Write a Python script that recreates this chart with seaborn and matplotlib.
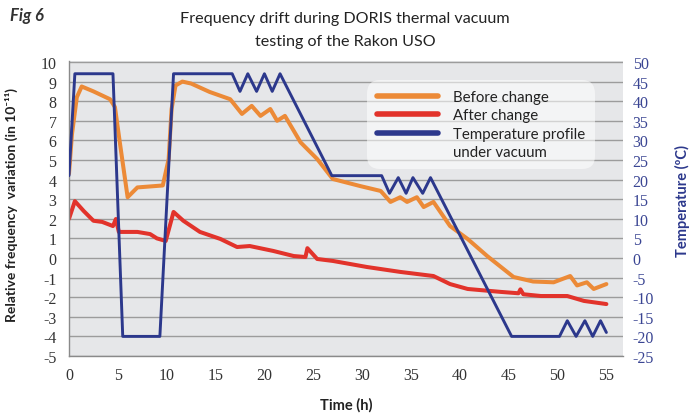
import matplotlib
matplotlib.use("Agg")
import matplotlib.pyplot as plt
from matplotlib.lines import Line2D
import seaborn as sns
import numpy as np

# ---- data ----
t_before = [0, 0.3, 0.8, 1.3, 2.5, 4.2, 4.7, 5.2, 6.0, 7.0, 9.6, 10.2, 10.5, 10.9, 11.6,
            12.5, 14.4, 16.5, 17.7, 18.7, 19.6, 20.6, 21.3, 22.1, 23.7, 25.4, 27.0, 29.8,
            31.9, 32.9, 33.9, 34.6, 35.6, 36.3, 37.3, 39.0, 40.8, 42.8, 45.5, 47.5, 49.6,
            51.3, 52.0, 53.0, 53.7, 55.0]
f_before = [4.3, 6.3, 8.2, 8.75, 8.5, 8.1, 7.7, 5.9, 3.1, 3.6, 3.7, 5.05, 7.6, 8.8, 9.0,
            8.9, 8.47, 8.1, 7.35, 7.76, 7.25, 7.6, 7.0, 7.25, 5.9, 5.05, 4.03, 3.67,
            3.42, 2.86, 3.1, 2.86, 3.1, 2.6, 2.86, 1.63, 0.97, 0.1, -0.97, -1.2, -1.24,
            -0.92, -1.4, -1.24, -1.58, -1.33]

t_after = [0, 0.6, 1.5, 2.5, 3.4, 4.5, 4.8, 5.1, 7.0, 8.3, 9.0, 9.9, 10.7, 11.7, 13.4,
           15.5, 17.2, 18.5, 20.9, 23.0, 24.2, 24.4, 25.4, 27.0, 30.5, 33.9, 37.3, 39.0,
           40.8, 44.2, 46.0, 46.2, 46.5, 48.3, 51.0, 52.7, 55.0]
f_after = [2.0, 2.9, 2.4, 1.9, 1.84, 1.63, 1.99, 1.33, 1.33, 1.22, 1.0, 0.87, 2.35, 1.9, 1.33,
           0.97, 0.56, 0.61, 0.36, 0.1, 0.05, 0.5, -0.05, -0.15, -0.46, -0.71, -0.92, -1.33,
           -1.58, -1.73, -1.8, -1.6, -1.85, -1.94, -1.94, -2.19, -2.35]

t_temp = [0, 0.6, 4.5, 5.5, 9.3, 10.7, 16.7, 17.5, 18.3, 19.2, 20.0, 20.8, 21.6, 26.9,
          32.0, 32.8, 33.7, 34.5, 35.2, 36.2, 37.0, 45.3, 50.2, 51.0, 51.9, 52.8, 53.6,
          54.4, 55.0]
temp = [21, 47, 47, -20, -20, 47, 47, 42.5, 47, 42.5, 47, 42.5, 47, 21,
        21, 16.5, 20.5, 16.5, 20.5, 16.5, 20.5, -20, -20, -16, -20, -16, -20,
        -16, -19]

x_ticks = list(range(0, 56, 5))
left_ticks = list(range(-5, 11, 1))
right_ticks = list(range(-25, 51, 5))

labels = ["Before change", "After change", "Temperature profile", "under vacuum"]
title_lines = ["Frequency drift during DORIS thermal vacuum", "testing of the Rakon USO"]

# ---- style ----
sns.set_style("white")
plt.rcParams['font.family'] = ['Lato', 'DejaVu Sans']

C_ORANGE = '#EC8A37'
C_RED = '#E2332B'
C_BLUE = '#2C388C'
C_RTICK = '#3A4593'
BG = '#E6E7E9'
GRID = '#9C9C9C'

fig = plt.figure(figsize=(6.93, 4.14), dpi=100)
W, H = 693, 414
x0, x1, y0, y1 = 69, 623, 62, 357
ax = fig.add_axes([x0 / W, 1 - y1 / H, (x1 - x0) / W, (y1 - y0) / H])
ax.set_facecolor(BG)

sns.lineplot(x=t_before, y=f_before, ax=ax, color=C_ORANGE, linewidth=2.9,
             estimator=None, sort=False, legend=False)
sns.lineplot(x=t_after, y=f_after, ax=ax, color=C_RED, linewidth=2.9,
             estimator=None, sort=False, legend=False)

ax.set_xlim(0, 56.7)
ax.set_ylim(-5, 10.05)
ax.set_xticks(x_ticks)
ax.set_yticks(left_ticks)
ax.set_yticklabels([str(v) for v in left_ticks])
ax.grid(axis='y', color=GRID, linewidth=1.0)
ax.grid(axis='x', visible=False)
ax.set_axisbelow(True)
for s in ['top', 'right']:
    ax.spines[s].set_visible(False)
for s in ['left', 'bottom']:
    ax.spines[s].set_color('#8A8A8A')
    ax.spines[s].set_linewidth(1.0)
ax.tick_params(axis='both', length=0)
ax.tick_params(axis='y', pad=9, labelcolor='#333333')
ax.tick_params(axis='x', pad=8, labelcolor='#333333')
for lab in ax.get_xticklabels() + ax.get_yticklabels():
    lab.set_family('Liberation Serif')
    lab.set_fontsize(11.5)

ax2 = ax.twinx()
sns.lineplot(x=t_temp, y=temp, ax=ax2, color=C_BLUE, linewidth=2.1,
             estimator=None, sort=False, legend=False)
ax2.set_ylim(-25, 50.25)
ax2.set_yticks(right_ticks)
ax2.set_yticklabels([str(v) for v in right_ticks])
ax2.tick_params(axis='y', length=0, pad=7, labelcolor=C_RTICK)
for lab in ax2.get_yticklabels():
    lab.set_family('Liberation Serif')
    lab.set_fontsize(11.5)
for s in ax2.spines.values():
    s.set_visible(False)
ax2.patch.set_visible(False)

ax.set_xlabel("Time (h)", fontsize=10.5, fontweight='bold', color='#222222')
ax.xaxis.set_label_coords(0.5, -0.14)
ax.set_ylabel("Relative frequency  variation (in 10\u207b\u00b9\u00b9)", fontsize=10,
              fontweight='bold', color='#222222')
ax.yaxis.set_label_coords(-0.092, 0.515)
ax2.set_ylabel("Temperature (\u00baC)", fontsize=10.5, fontweight='bold', color=C_BLUE,
               rotation=90)
ax2.yaxis.set_label_coords(1.094, 0.53)

fig.text(345 / W, 1 - 19 / H, title_lines[0], ha='center', va='center', fontsize=11.6,
         color='#222222')
fig.text(345 / W, 1 - 42 / H, title_lines[1], ha='center', va='center', fontsize=11.6,
         color='#222222')
fig.text(10 / W, 1 - 16 / H, "Fig 6", ha='left', va='center', fontsize=12,
         fontweight='bold', fontstyle='italic', color='#333333')

handles = [Line2D([], [], color=C_ORANGE, linewidth=4),
           Line2D([], [], color=C_RED, linewidth=4),
           Line2D([], [], color=C_BLUE, linewidth=4),
           Line2D([], [], color='none', linewidth=0)]
leg = ax2.legend(handles, labels, loc='upper left',
                 bbox_to_anchor=((367 - x0) / (x1 - x0), (y1 - 81) / (y1 - y0)),
                 fontsize=10.8, frameon=True, fancybox=True, framealpha=0.55,
                 facecolor='white', edgecolor='none', handlelength=4.1,
                 handletextpad=1.0, labelspacing=0.3, borderpad=0.65,
                 borderaxespad=0)
leg.get_frame().set_boxstyle('round', pad=0, rounding_size=0.9)
for txt in leg.get_texts():
    txt.set_color('#222222')

fig.savefig("out.png", dpi=100)
